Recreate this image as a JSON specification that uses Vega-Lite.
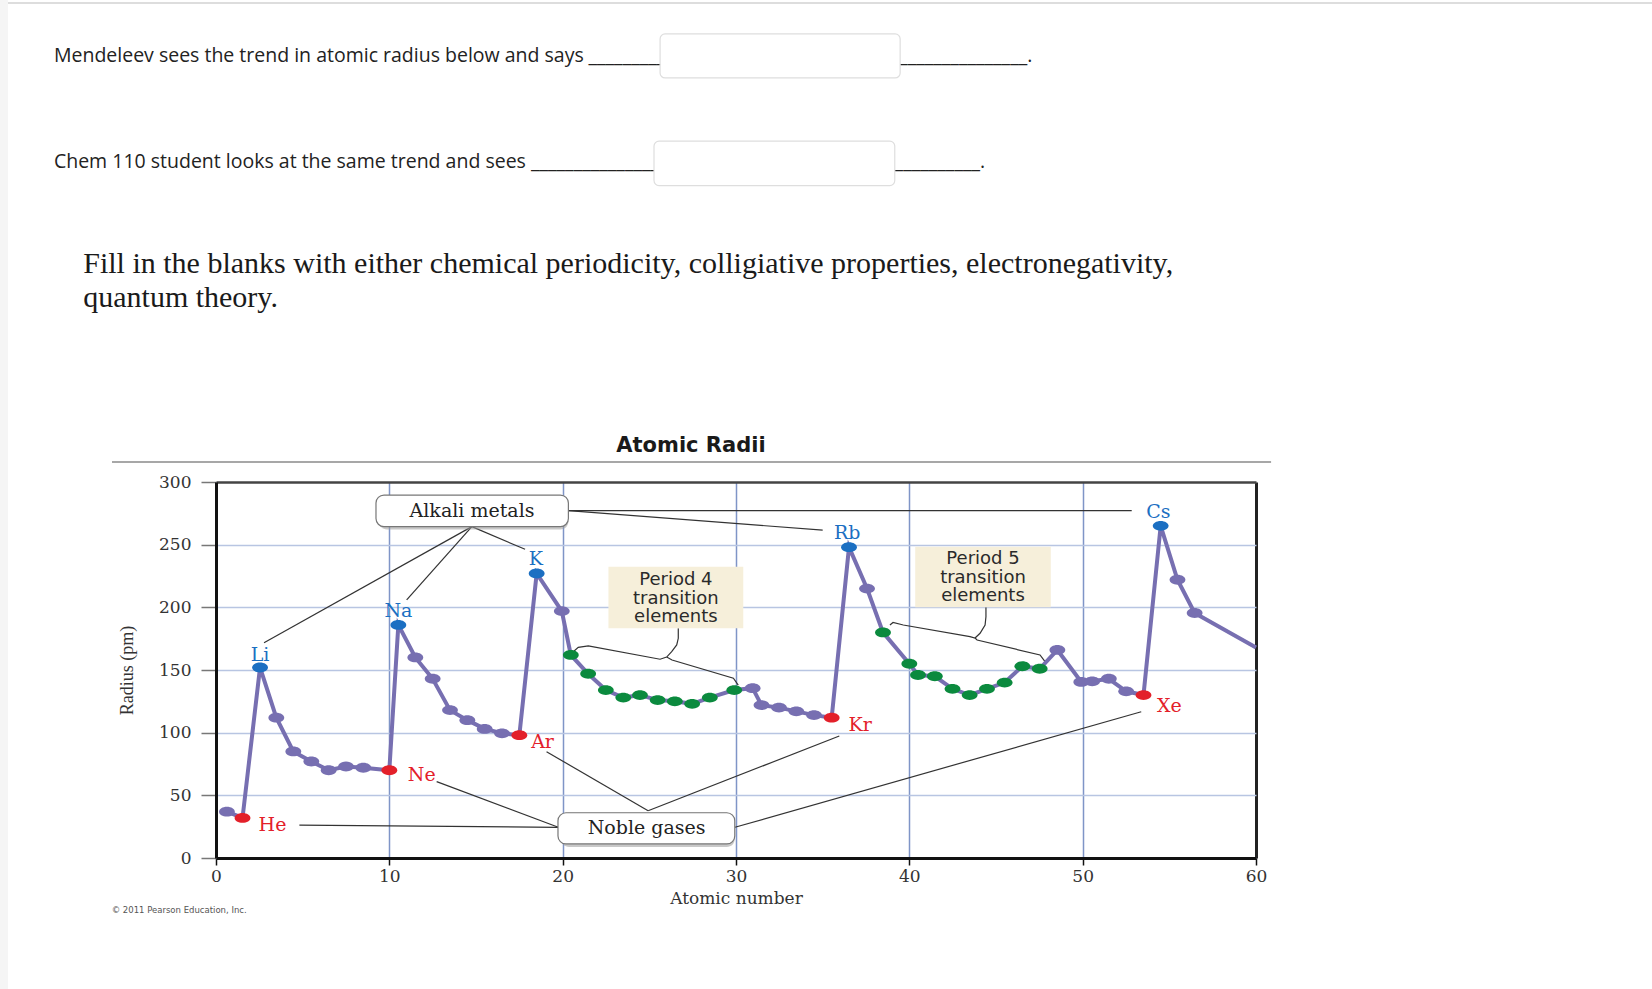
{
  "$schema": "https://vega.github.io/schema/vega-lite/v6.json",
  "background": "white",
  "autosize": "none",
  "width": 1040,
  "height": 376,
  "padding": {"left": 216, "top": 482, "right": 396, "bottom": 131},
  "datasets": {
    "radii": [
      {"el": "H", "x": 0.63, "y": 37, "g": "o"},
      {"el": "He", "x": 1.53, "y": 32, "g": "n"},
      {"el": "Li", "x": 2.54, "y": 152, "g": "a"},
      {"el": "Be", "x": 3.48, "y": 112, "g": "o"},
      {"el": "B", "x": 4.46, "y": 85, "g": "o"},
      {"el": "C", "x": 5.5, "y": 77, "g": "o"},
      {"el": "N", "x": 6.5, "y": 70, "g": "o"},
      {"el": "O", "x": 7.5, "y": 73, "g": "o"},
      {"el": "F", "x": 8.5, "y": 72, "g": "o"},
      {"el": "Ne", "x": 10.0, "y": 70, "g": "n"},
      {"el": "Na", "x": 10.52, "y": 186, "g": "a"},
      {"el": "Mg", "x": 11.5, "y": 160, "g": "o"},
      {"el": "Al", "x": 12.5, "y": 143, "g": "o"},
      {"el": "Si", "x": 13.5, "y": 118, "g": "o"},
      {"el": "P", "x": 14.5, "y": 110, "g": "o"},
      {"el": "S", "x": 15.5, "y": 103, "g": "o"},
      {"el": "Cl", "x": 16.5, "y": 99.5, "g": "o"},
      {"el": "Ar", "x": 17.5, "y": 98, "g": "n"},
      {"el": "K", "x": 18.5, "y": 227, "g": "a"},
      {"el": "Ca", "x": 19.95, "y": 197, "g": "o"},
      {"el": "Sc", "x": 20.47, "y": 162, "g": "t"},
      {"el": "Ti", "x": 21.47, "y": 147, "g": "t"},
      {"el": "V", "x": 22.49, "y": 134, "g": "t"},
      {"el": "Cr", "x": 23.5, "y": 128, "g": "t"},
      {"el": "Mn", "x": 24.46, "y": 130, "g": "t"},
      {"el": "Fe", "x": 25.48, "y": 126, "g": "t"},
      {"el": "Co", "x": 26.47, "y": 125, "g": "t"},
      {"el": "Ni", "x": 27.47, "y": 123, "g": "t"},
      {"el": "Cu", "x": 28.49, "y": 128, "g": "t"},
      {"el": "Zn", "x": 29.9, "y": 134, "g": "t"},
      {"el": "Ga", "x": 30.96, "y": 135.5, "g": "o"},
      {"el": "Ge", "x": 31.47, "y": 122, "g": "o"},
      {"el": "As", "x": 32.48, "y": 120, "g": "o"},
      {"el": "Se", "x": 33.48, "y": 117, "g": "o"},
      {"el": "Br", "x": 34.5, "y": 114, "g": "o"},
      {"el": "Kr", "x": 35.52, "y": 112, "g": "n"},
      {"el": "Rb", "x": 36.52, "y": 248, "g": "a"},
      {"el": "Sr", "x": 37.56, "y": 215, "g": "o"},
      {"el": "Y", "x": 38.48, "y": 180, "g": "t"},
      {"el": "Zr", "x": 40.0, "y": 155, "g": "t"},
      {"el": "Nb", "x": 40.5, "y": 146, "g": "t"},
      {"el": "Mo", "x": 41.47, "y": 145, "g": "t"},
      {"el": "Tc", "x": 42.49, "y": 135, "g": "t"},
      {"el": "Ru", "x": 43.48, "y": 130, "g": "t"},
      {"el": "Rh", "x": 44.48, "y": 135, "g": "t"},
      {"el": "Pd", "x": 45.5, "y": 140, "g": "t"},
      {"el": "Ag", "x": 46.52, "y": 153, "g": "t"},
      {"el": "Cd", "x": 47.52, "y": 151, "g": "t"},
      {"el": "In", "x": 48.54, "y": 166, "g": "o"},
      {"el": "Sn", "x": 49.92, "y": 140.5, "g": "o"},
      {"el": "Sb", "x": 50.55, "y": 141, "g": "o"},
      {"el": "Te", "x": 51.51, "y": 143, "g": "o"},
      {"el": "I", "x": 52.51, "y": 133, "g": "o"},
      {"el": "Xe", "x": 53.51, "y": 130, "g": "n"},
      {"el": "Cs", "x": 54.5, "y": 265, "g": "a"},
      {"el": "Ba", "x": 55.47, "y": 222, "g": "o"},
      {"el": "La", "x": 56.46, "y": 195.5, "g": "o"},
      {"el": "", "x": 60, "y": 168, "g": "end"}
    ],
    "labels": [
      {"t": "Li", "x": 2.54, "y": 162, "g": "a"},
      {"t": "Na", "x": 10.52, "y": 197.3, "g": "a"},
      {"t": "K", "x": 18.45, "y": 238.3, "g": "a"},
      {"t": "Rb", "x": 36.42, "y": 259.1, "g": "a"},
      {"t": "Cs", "x": 54.37, "y": 276.3, "g": "a"},
      {"t": "He", "x": 3.26, "y": 26.3, "g": "n"},
      {"t": "Ne", "x": 11.87, "y": 66.2, "g": "n"},
      {"t": "Ar", "x": 18.84, "y": 92.8, "g": "n"},
      {"t": "Kr", "x": 37.16, "y": 106.1, "g": "n"},
      {"t": "Xe", "x": 55.0, "y": 121.5, "g": "n"}
    ],
    "leaders": [
      {"k": "leader", "x": 14.76, "y": 264.4, "x2": 2.77, "y2": 171.8},
      {"k": "leader", "x": 14.76, "y": 264.4, "x2": 11.0, "y2": 205.9},
      {"k": "leader", "x": 14.76, "y": 264.4, "x2": 17.83, "y2": 246.3},
      {"k": "leader", "x": 20.33, "y": 277.1, "x2": 35.0, "y2": 261.6},
      {"k": "leader", "x": 20.33, "y": 277.1, "x2": 52.83, "y2": 277.1},
      {"k": "leader", "x": 4.81, "y": 26.3, "x2": 19.75, "y2": 24.5},
      {"k": "leader", "x": 12.73, "y": 60.9, "x2": 19.75, "y2": 24.5},
      {"k": "leader", "x": 19.07, "y": 84.8, "x2": 24.93, "y2": 37.7},
      {"k": "leader", "x": 24.93, "y": 37.7, "x2": 35.96, "y2": 97.3},
      {"k": "leader", "x": 29.94, "y": 24.5, "x2": 53.38, "y2": 116.7},
      {"k": "rule", "x": -6.0, "y": 316.0, "x2": 60.87, "y2": 316.0},
      {"k": "page", "x": -12.0, "y": 682.2, "x2": 82.9, "y2": 682.2}
    ],
    "braces": [
      {"id": "p4", "o": 1, "x": 20.61, "y": 164.6},
      {"id": "p4", "o": 2, "x": 20.9, "y": 168.1},
      {"id": "p4", "o": 3, "x": 21.48, "y": 169.2},
      {"id": "p4", "o": 4, "x": 25.62, "y": 158.6},
      {"id": "p4", "o": 5, "x": 26.0, "y": 160.3},
      {"id": "p4", "o": 6, "x": 26.29, "y": 164.6},
      {"id": "p4", "o": 7, "x": 26.58, "y": 170.0},
      {"id": "p4", "o": 8, "x": 26.67, "y": 175.3},
      {"id": "p4", "o": 9, "x": 26.67, "y": 183.3},
      {"id": "p4r", "o": 1, "x": 26.0, "y": 160.3},
      {"id": "p4r", "o": 2, "x": 26.31, "y": 158.0},
      {"id": "p4r", "o": 3, "x": 29.85, "y": 143.4},
      {"id": "p4r", "o": 4, "x": 30.13, "y": 138.0},
      {"id": "p5", "o": 1, "x": 38.88, "y": 185.9},
      {"id": "p5", "o": 2, "x": 39.06, "y": 187.9},
      {"id": "p5", "o": 3, "x": 39.65, "y": 185.9},
      {"id": "p5", "o": 4, "x": 43.5, "y": 176.6},
      {"id": "p5", "o": 5, "x": 43.79, "y": 175.5},
      {"id": "p5", "o": 6, "x": 44.08, "y": 179.3},
      {"id": "p5", "o": 7, "x": 44.37, "y": 185.9},
      {"id": "p5", "o": 8, "x": 44.42, "y": 192.5},
      {"id": "p5", "o": 9, "x": 44.42, "y": 200.0},
      {"id": "p5r", "o": 1, "x": 43.79, "y": 175.5},
      {"id": "p5r", "o": 2, "x": 43.91, "y": 173.9},
      {"id": "p5r", "o": 3, "x": 47.54, "y": 162.0},
      {"id": "p5r", "o": 4, "x": 47.83, "y": 156.6}
    ],
    "boxes": [
      {"k": "strip", "x": -12.46, "x2": -12.0, "y": -104.7, "y2": 684.6},
      {"k": "input", "x": 25.62, "x2": 39.47, "y": 622.4, "y2": 657.5},
      {"k": "input", "x": 25.27, "x2": 39.16, "y": 536.5, "y2": 572.0},
      {"k": "callout", "x": 9.23, "x2": 20.33, "y": 264.4, "y2": 289.6},
      {"k": "callout", "x": 19.73, "x2": 29.93, "y": 11.2, "y2": 36.1},
      {"k": "tan", "x": 22.64, "x2": 30.42, "y": 183.3, "y2": 232.4},
      {"k": "tan", "x": 40.34, "x2": 48.16, "y": 200.0, "y2": 248.3}
    ],
    "texts": [
      {"k": "page", "t": "Mendeleev sees the trend in atomic radius below and says", "x": -9.35, "y": 635.4},
      {"k": "page", "t": "_________", "x": 21.49, "y": 635.4},
      {"k": "page", "t": "_______________.", "x": 39.41, "y": 635.4},
      {"k": "page", "t": "Chem 110 student looks at the same trend and sees", "x": -9.35, "y": 550.2},
      {"k": "page", "t": "_______________", "x": 18.17, "y": 550.2},
      {"k": "page", "t": "__________.", "x": 39.15, "y": 550.2},
      {"k": "question", "t": "Fill in the blanks with either chemical periodicity, colligiative properties, electronegativity,", "x": -7.66, "y": 466.5},
      {"k": "question", "t": "quantum theory.", "x": -7.66, "y": 439.9},
      {"k": "title", "t": "Atomic Radii", "x": 27.4, "y": 323.6},
      {"k": "callout", "t": "Alkali metals", "x": 14.77, "y": 277.0},
      {"k": "callout", "t": "Noble gases", "x": 24.84, "y": 23.6},
      {"k": "tan", "t": "Period 4\ntransition\nelements", "x": 26.53, "y": 221.8},
      {"k": "tan", "t": "Period 5\ntransition\nelements", "x": 44.25, "y": 238.3},
      {"k": "copy", "t": "© 2011 Pearson Education, Inc.", "x": -6.02, "y": -41.5}
    ]
  },
  "encoding": {
    "x": {
      "field": "x",
      "type": "quantitative",
      "scale": {"domain": [0, 60], "nice": false, "zero": false},
      "axis": {
        "title": "Atomic number",
        "values": [0, 10, 20, 30, 40, 50, 60],
        "labelFlush": false,
        "grid": true,
        "gridColor": {"condition": {"test": "datum.value == 60", "value": "#222"}, "value": "#7f95c7"},
        "gridWidth": {"condition": {"test": "datum.value == 60", "value": 3}, "value": 1.5},
        "domainColor": "#111",
        "domainWidth": 3,
        "tickColor": "#111",
        "tickSize": 7,
        "tickWidth": 1.5,
        "labelFont": "DejaVu Serif",
        "labelFontSize": 17,
        "labelColor": "#333",
        "labelPadding": 3,
        "titleFont": "DejaVu Serif",
        "titleFontSize": 17,
        "titleFontWeight": "normal",
        "titleColor": "#333",
        "titlePadding": 6
      }
    },
    "y": {
      "field": "y",
      "type": "quantitative",
      "scale": {"domain": [0, 300], "nice": false},
      "axis": {
        "title": "Radius (pm)",
        "values": [0, 50, 100, 150, 200, 250, 300],
        "labelFlush": false,
        "grid": true,
        "gridColor": {"condition": {"test": "datum.value == 300", "value": "#444"}, "value": "#b8c5e2"},
        "gridWidth": {"condition": {"test": "datum.value == 300", "value": 2.5}, "value": 1.5},
        "domainColor": "#111",
        "domainWidth": 3,
        "tickColor": "#777",
        "tickSize": 15,
        "tickWidth": 1.5,
        "labelFont": "DejaVu Serif",
        "labelFontSize": 17,
        "labelColor": "#333",
        "labelPadding": 10,
        "titleFont": "Liberation Serif",
        "titleFontSize": 18,
        "titleFontWeight": "normal",
        "titleColor": "#333",
        "titlePadding": 22
      }
    }
  },
  "layer": [
    {
      "data": {"name": "boxes"},
      "transform": [{"filter": "datum.k == 'strip'"}],
      "mark": {"type": "rect", "fill": "#f5f5f5"},
      "encoding": {"x2": {"field": "x2"}, "y2": {"field": "y2"}}
    },
    {
      "data": {"name": "leaders"},
      "transform": [{"filter": "datum.k == 'page'"}],
      "mark": {"type": "rule", "color": "#d2d2d2", "strokeWidth": 1.5},
      "encoding": {"x2": {"field": "x2"}, "y2": {"field": "y2"}}
    },
    {
      "data": {"name": "texts"},
      "transform": [{"filter": "datum.k == 'page'"}],
      "mark": {"type": "text", "font": "Open Sans", "fontSize": 19.5, "color": "#222", "align": "left", "baseline": "alphabetic"},
      "encoding": {"text": {"field": "t"}}
    },
    {
      "data": {"name": "boxes"},
      "transform": [{"filter": "datum.k == 'input'"}],
      "mark": {"type": "rect", "fill": "white", "stroke": "#dedede", "strokeWidth": 1.2, "cornerRadius": 5},
      "encoding": {"x2": {"field": "x2"}, "y2": {"field": "y2"}}
    },
    {
      "data": {"name": "texts"},
      "transform": [{"filter": "datum.k == 'question'"}],
      "mark": {"type": "text", "font": "Liberation Serif", "fontSize": 30, "color": "#1a1a1a", "align": "left", "baseline": "alphabetic"},
      "encoding": {"text": {"field": "t"}}
    },
    {
      "data": {"name": "texts"},
      "transform": [{"filter": "datum.k == 'title'"}],
      "mark": {"type": "text", "font": "DejaVu Sans", "fontSize": 21, "fontWeight": "bold", "color": "#1a1a1a", "align": "center", "baseline": "alphabetic"},
      "encoding": {"text": {"field": "t"}}
    },
    {
      "data": {"name": "leaders"},
      "transform": [{"filter": "datum.k == 'rule'"}],
      "mark": {"type": "rule", "color": "#8a8a8a", "strokeWidth": 1.6},
      "encoding": {"x2": {"field": "x2"}, "y2": {"field": "y2"}}
    },
    {
      "data": {"name": "leaders"},
      "transform": [{"filter": "datum.k == 'leader'"}],
      "mark": {"type": "rule", "color": "#333", "strokeWidth": 1.2},
      "encoding": {"x2": {"field": "x2"}, "y2": {"field": "y2"}}
    },
    {
      "data": {"name": "braces"},
      "mark": {"type": "line", "color": "#333", "strokeWidth": 1.2},
      "encoding": {"detail": {"field": "id"}, "order": {"field": "o"}}
    },
    {
      "data": {"name": "boxes"},
      "transform": [{"filter": "datum.k == 'callout'"}],
      "mark": {"type": "rect", "fill": "#9a9a9a", "opacity": 0.55, "cornerRadius": 8, "xOffset": 3, "yOffset": 3},
      "encoding": {"x2": {"field": "x2"}, "y2": {"field": "y2"}}
    },
    {
      "data": {"name": "boxes"},
      "transform": [{"filter": "datum.k == 'callout'"}],
      "mark": {"type": "rect", "fill": "white", "stroke": "#777", "strokeWidth": 1.2, "cornerRadius": 8},
      "encoding": {"x2": {"field": "x2"}, "y2": {"field": "y2"}}
    },
    {
      "data": {"name": "boxes"},
      "transform": [{"filter": "datum.k == 'tan'"}],
      "mark": {"type": "rect", "fill": "#f6efda"},
      "encoding": {"x2": {"field": "x2"}, "y2": {"field": "y2"}}
    },
    {
      "data": {"name": "texts"},
      "transform": [{"filter": "datum.k == 'callout'"}],
      "mark": {"type": "text", "font": "DejaVu Serif", "fontSize": 19, "color": "#222", "align": "center", "baseline": "middle"},
      "encoding": {"text": {"field": "t"}}
    },
    {
      "data": {"name": "texts"},
      "transform": [{"filter": "datum.k == 'tan'"}],
      "mark": {"type": "text", "font": "DejaVu Sans", "fontSize": 18, "color": "#2a2a2a", "align": "center", "baseline": "middle", "lineBreak": "\n", "lineHeight": 18.5},
      "encoding": {"text": {"field": "t"}}
    },
    {
      "data": {"name": "texts"},
      "transform": [{"filter": "datum.k == 'copy'"}],
      "mark": {"type": "text", "font": "DejaVu Sans", "fontSize": 8.5, "color": "#555", "align": "left", "baseline": "middle"},
      "encoding": {"text": {"field": "t"}}
    },
    {
      "data": {"name": "radii"},
      "mark": {"type": "line", "color": "#776fb1", "strokeWidth": 4}
    },
    {
      "data": {"name": "radii"},
      "transform": [{"filter": "datum.g != 'end'"}],
      "mark": {
        "type": "point",
        "filled": true,
        "opacity": 1,
        "shape": "M -1 0 A 1 0.62 0 1 0 1 0 A 1 0.62 0 1 0 -1 0 Z",
        "size": 250
      },
      "encoding": {
        "color": {
          "field": "g",
          "type": "nominal",
          "scale": {"domain": ["a", "n", "t", "o"], "range": ["#1b6fc2", "#e3202a", "#0b8a3e", "#776fb1"]},
          "legend": null
        }
      }
    },
    {
      "data": {"name": "labels"},
      "mark": {"type": "text", "font": "DejaVu Serif", "fontSize": 19, "align": "center", "baseline": "middle"},
      "encoding": {
        "text": {"field": "t"},
        "color": {
          "field": "g",
          "type": "nominal",
          "scale": {"domain": ["a", "n", "t", "o"], "range": ["#1b6fc2", "#e3202a", "#0b8a3e", "#776fb1"]},
          "legend": null
        }
      }
    }
  ],
  "config": {"view": {"stroke": null}}
}
